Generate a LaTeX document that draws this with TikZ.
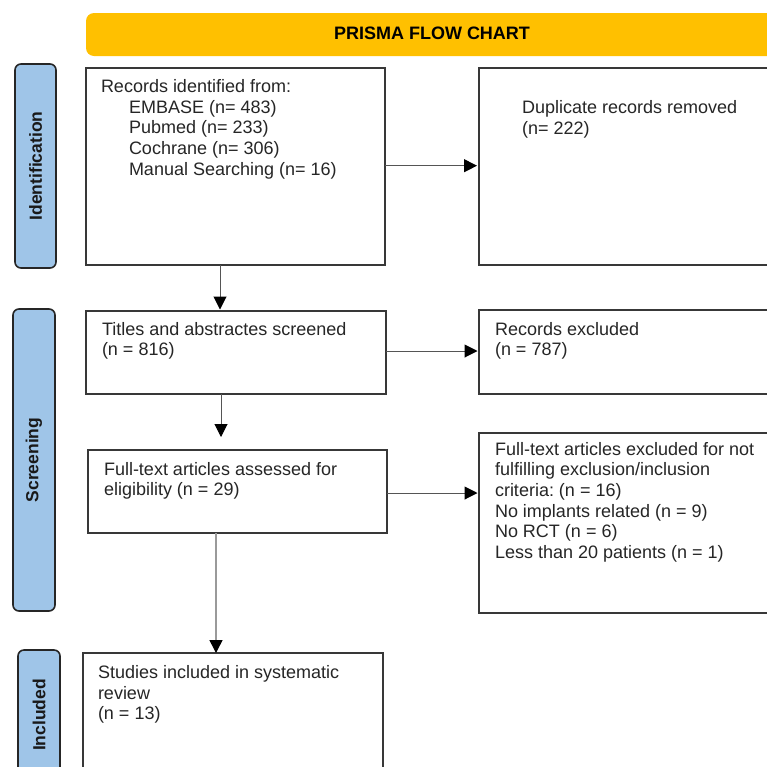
\documentclass[tikz,border=0pt]{standalone}
\usepackage{fontspec}
\setmainfont{Liberation Sans}
\usetikzlibrary{arrows.meta}
\frenchspacing
\definecolor{prismayellow}{HTML}{FFC000}
\definecolor{labelblue}{HTML}{9FC5E8}
\definecolor{boxline}{HTML}{383838}
\definecolor{txtcol}{HTML}{262626}
\definecolor{arrline}{HTML}{555555}
\definecolor{lightline}{HTML}{9A9A9A}
\begin{document}
\begin{tikzpicture}[x=1pt,y=-1pt,
  box/.style={draw=boxline, line width=1.6pt, fill=white, anchor=north west, inner sep=0pt, outer sep=0pt},
  lab/.style={draw=black!85, line width=1.6pt, fill=labelblue, rounded corners=6pt, anchor=north west, inner sep=0pt, outer sep=0pt},
  labtxt/.style={rotate=90, font=\fontsize{17.5}{20}\selectfont\bfseries, text=black!90, inner sep=0pt},
  txt/.style={anchor=north west, align=left, inner sep=0pt, outer sep=0pt, text=txtcol, font=\fontsize{18}{20.7}\selectfont},
  arr/.style={draw=arrline, line width=1pt, -{Triangle[length=13pt,width=13pt,color=black]}},
  arrlight/.style={draw=lightline, line width=1.5pt, -{Triangle[length=13pt,width=13pt,color=black]}}
]
\useasboundingbox (0,0) rectangle (767,766);
\clip (0,0) rectangle (767,766);
\fill[white] (0,0) rectangle (767,766);

% title bar
\node[anchor=north west, fill=prismayellow, rounded corners=8pt, minimum width=692pt, minimum height=43pt, inner sep=0pt, outer sep=0pt] (bar) at (86,13) {};
\node[font=\fontsize{18}{20}\selectfont\bfseries, inner sep=0pt] (bartxt) at (432,33) {PRISMA FLOW CHART};

% stage labels
\node[lab, minimum width=41pt, minimum height=204pt] (lab1) at (15,64) {};
\node[labtxt] (lab1t) at (lab1.center) {Identification};
\node[lab, minimum width=42pt, minimum height=302pt] (lab2) at (13,309) {};
\node[labtxt] (lab2t) at (lab2.center) {Screening};
\node[lab, minimum width=42pt, minimum height=130pt] (lab3) at (18,650) {};
\node[labtxt] (lab3t) at (lab3.center) {Included};

% boxes
\node[box, minimum width=299pt, minimum height=197pt] (b1) at (86,68) {};
\node[box, minimum width=311pt, minimum height=197pt] (dup) at (479,68) {};
\node[box, minimum width=300pt, minimum height=83pt] (scr) at (86,311) {};
\node[box, minimum width=311pt, minimum height=84pt] (rex) at (479,310) {};
\node[box, minimum width=299pt, minimum height=83pt] (ft) at (88,450) {};
\node[box, minimum width=311pt, minimum height=180pt] (ftx) at (479,433) {};
\node[box, minimum width=300pt, minimum height=147pt] (inc) at (83,653) {};

% texts
\node[txt] (b1t) at (101,77.5) {\rule{0pt}{15pt}Records identified from:\\
\hspace*{28pt}EMBASE (n= 483)\\
\hspace*{28pt}Pubmed (n= 233)\\
\hspace*{28pt}Cochrane (n= 306)\\
\hspace*{28pt}Manual Searching (n= 16)};
\node[txt] (dupt) at (522,98.3) {\rule{0pt}{15pt}Duplicate records removed\\(n= 222)};
\node[txt] (scrt) at (102,320) {\rule{0pt}{15pt}Titles and abstractes screened\\(n = 816)};
\node[txt] (rext) at (495,320) {\rule{0pt}{15pt}Records excluded\\(n = 787)};
\node[txt] (ftt) at (104,460) {\rule{0pt}{15pt}Full-text articles assessed for\\eligibility (n = 29)};
\node[txt] (ftxt) at (495,440) {\rule{0pt}{15pt}Full-text articles excluded for not\\fulfilling exclusion/inclusion\\criteria: (n = 16)\\No implants related (n = 9)\\No RCT (n = 6)\\Less than 20 patients (n = 1)};
\node[txt] (inct) at (98,663.3) {\rule{0pt}{15pt}Studies included in systematic\\review\\(n = 13)};

% connector guide coordinates
\coordinate (v1) at (220,0);
\coordinate (v2) at (221,0);
\coordinate (v3) at (216,0);
\coordinate (h1) at (0,165.7);
\coordinate (h2) at (0,351);
\coordinate (h3) at (0,493);

% connectors
\draw[arr] (b1.south -| v1) -- ([yshift=1.5pt]scr.north -| v1);
\draw[arr] (scr.south -| v2) -- ([yshift=13pt]ft.north -| v2);
\draw[arrlight] (ft.south -| v3) -- (inc.north -| v3);
\draw[arr] (b1.east |- h1) -- ([xshift=-2pt]dup.west |- h1);
\draw[arr] (scr.east |- h2) -- ([xshift=-1.5pt]rex.west |- h2);
\draw[arr] (ft.east |- h3) -- ([xshift=-1.5pt]ftx.west |- h3);
\end{tikzpicture}
\end{document}
